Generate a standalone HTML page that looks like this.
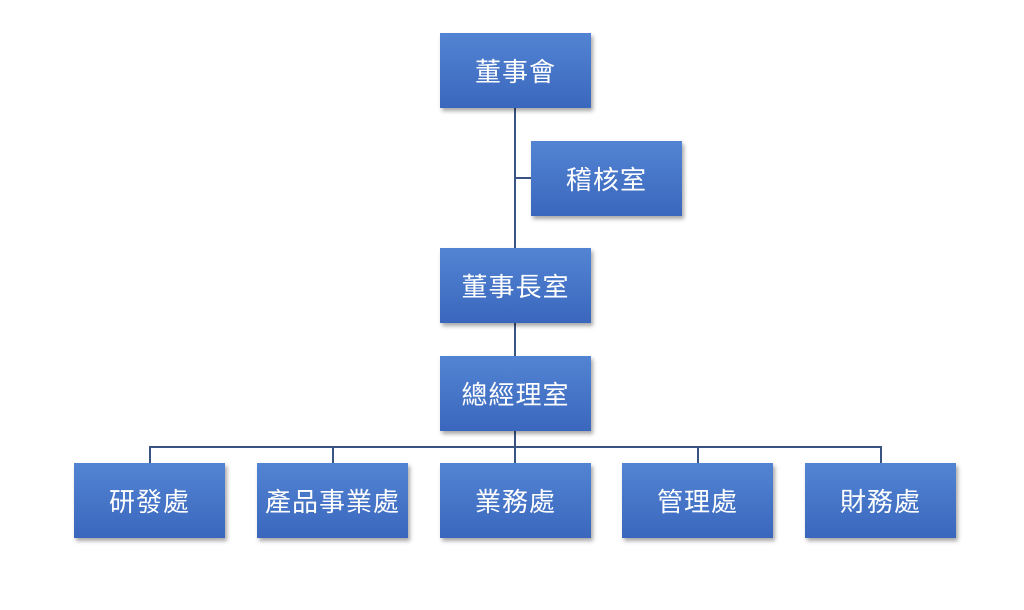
<!DOCTYPE html>
<html><head><meta charset="utf-8"><style>
body{margin:0;width:1024px;height:610px;background:#fff;position:relative;overflow:hidden;font-family:"Liberation Sans","Noto Sans CJK TC",sans-serif}
.b{position:absolute;width:151px;height:75px;background:linear-gradient(#5384d3,#3a67bd);box-shadow:2px 3px 4px rgba(0,0,0,.35);color:#fff;font-size:26px;display:flex;align-items:center;justify-content:center;letter-spacing:1px}
.l{position:absolute;background:#3a5482}
</style></head><body>
<div class="l" style="left:514px;top:108px;width:2px;height:140px"></div>
<div class="l" style="left:514px;top:177px;width:17px;height:2px"></div>
<div class="l" style="left:514px;top:322px;width:2px;height:34px"></div>
<div class="l" style="left:514px;top:430px;width:2px;height:33px"></div>
<div class="l" style="left:149px;top:446px;width:733px;height:2px"></div>
<div class="l" style="left:149px;top:446px;width:2px;height:17px"></div>
<div class="l" style="left:332px;top:446px;width:2px;height:17px"></div>
<div class="l" style="left:697px;top:446px;width:2px;height:17px"></div>
<div class="l" style="left:880px;top:446px;width:2px;height:17px"></div>
<div class="b" style="left:440px;top:33px">董事會</div>
<div class="b" style="left:531px;top:141px">稽核室</div>
<div class="b" style="left:440px;top:248px">董事長室</div>
<div class="b" style="left:440px;top:356px">總經理室</div>
<div class="b" style="left:74px;top:463px">研發處</div>
<div class="b" style="left:257px;top:463px">產品事業處</div>
<div class="b" style="left:440px;top:463px">業務處</div>
<div class="b" style="left:622px;top:463px">管理處</div>
<div class="b" style="left:805px;top:463px">財務處</div>
</body></html>
